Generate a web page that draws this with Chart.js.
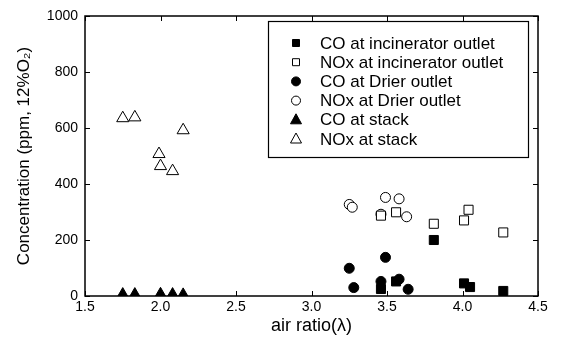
<!DOCTYPE html>
<html>
<head>
  <title>Concentration vs air ratio</title>
  <script src="https://cdn.jsdelivr.net/npm/chart.js"></script>
  <style>
    body { margin: 0; background: #fff; }
  </style>
</head>
<body>
  <canvas id="chartCanvas" width="562" height="347"></canvas>

  <script>
    // values: [air ratio, ppm]
    const coIncinerator = [[3.46, 25], [3.56, 52], [3.81, 200], [4.01, 45], [4.05, 32], [4.27, 18]];
    const noxIncinerator = [[3.46, 287], [3.56, 299], [3.81, 258], [4.01, 270], [4.04, 308], [4.27, 227]];
    const coDrier = [[3.25, 99], [3.28, 30], [3.46, 52], [3.49, 138], [3.58, 60], [3.64, 24]];
    const noxDrier = [[3.25, 327], [3.27, 317], [3.46, 292], [3.49, 352], [3.58, 347], [3.63, 283]];
    const coStack = [[1.75, 5], [1.83, 5], [2.0, 6], [2.08, 5], [2.15, 4]];
    const noxStack = [[1.75, 635], [1.83, 638], [1.99, 507], [2.0, 464], [2.08, 446], [2.15, 592]];

    const labels = [
      "CO at incinerator outlet",
      "NOx at incinerator outlet",
      "CO at Drier outlet",
      "NOx at Drier outlet",
      "CO at stack",
      "NOx at stack"
    ];
    const xTicks = [1.5, 2.0, 2.5, 3.0, 3.5, 4.0, 4.5];
    const yTicks = [0, 200, 400, 600, 800, 1000];

    const FONT = "'Liberation Sans', Arial, sans-serif";
    const toPts = arr => arr.map(p => ({ x: p[0], y: p[1] }));

    function ds(label, data, style, filled, radius) {
      return {
        label: label,
        data: toPts(data),
        pointStyle: style,
        pointRadius: radius,
        pointHoverRadius: radius,
        pointBackgroundColor: filled ? "#000" : "#fff",
        pointBorderColor: "#000",
        pointBorderWidth: 1,
        showLine: false
      };
    }

    // frame, inward ticks and boxed legend
    const framePlugin = {
      id: "frame",
      afterDraw(chart) {
        const ctx = chart.ctx;
        const a = chart.chartArea;
        const xs = chart.scales.x, ys = chart.scales.y;
        ctx.save();
        ctx.strokeStyle = "#000";
        ctx.lineWidth = 1.5;
        ctx.strokeRect(a.left, a.top, a.right - a.left, a.bottom - a.top);
        ctx.lineWidth = 1;
        ctx.beginPath();
        xTicks.forEach(v => {
          const px = Math.round(xs.getPixelForValue(v)) + 0.5;
          ctx.moveTo(px, a.bottom); ctx.lineTo(px, a.bottom - 5);
          ctx.moveTo(px, a.top); ctx.lineTo(px, a.top + 5);
        });
        yTicks.forEach(v => {
          const py = Math.round(ys.getPixelForValue(v)) + 0.5;
          ctx.moveTo(a.left, py); ctx.lineTo(a.left + 5, py);
          ctx.moveTo(a.right, py); ctx.lineTo(a.right - 5, py);
        });
        ctx.stroke();

        // legend box
        const lx = 268, ly = 21, lw = 260, lh = 136;
        ctx.fillStyle = "#fff";
        ctx.fillRect(lx, ly, lw, lh);
        ctx.lineWidth = 1.2;
        ctx.strokeRect(lx + 0.5, ly + 0.5, lw, lh);
        ctx.font = "17px " + FONT;
        ctx.textBaseline = "middle";
        chart.data.datasets.forEach((d, i) => {
          const cy = 43 + i * 19.2;
          const cx = 296;
          ctx.fillStyle = d.pointBackgroundColor;
          ctx.strokeStyle = "#000";
          ctx.lineWidth = 1;
          ctx.beginPath();
          if (d.pointStyle === "rect") {
            ctx.rect(cx - 3.5, cy - 3.5, 7, 7);
          } else if (d.pointStyle === "circle") {
            ctx.arc(cx, cy, 4.5, 0, Math.PI * 2);
          } else {
            ctx.moveTo(cx, cy - 6);
            ctx.lineTo(cx + 5.5, cy + 4);
            ctx.lineTo(cx - 5.5, cy + 4);
            ctx.closePath();
          }
          ctx.fill();
          ctx.stroke();
          ctx.fillStyle = "#000";
          ctx.fillText(d.label, 320, cy + 1);
        });
        ctx.restore();
      }
    };

    const ctx = document.getElementById("chartCanvas").getContext("2d");
    new Chart(ctx, {
      type: "scatter",
      data: {
        datasets: [
          ds(labels[0], coIncinerator, "rect", true, 6.4),
          ds(labels[1], noxIncinerator, "rect", false, 6.4),
          ds(labels[2], coDrier, "circle", true, 5),
          ds(labels[3], noxDrier, "circle", false, 5),
          ds(labels[4], coStack, "triangle", true, 7),
          ds(labels[5], noxStack, "triangle", false, 7)
        ]
      },
      options: {
        responsive: false,
        animation: false,
        layout: { padding: { top: 16, right: 24, left: 0, bottom: 0 } },
        plugins: {
          legend: { display: false },
          tooltip: { enabled: false }
        },
        scales: {
          x: {
            type: "linear",
            min: 1.5,
            max: 4.5,
            afterBuildTicks: s => { s.ticks = xTicks.map(v => ({ value: v })); },
            afterFit: s => { s.height = 51; },
            grid: { display: false, drawTicks: false },
            border: { display: false },
            ticks: {
              color: "#000",
              padding: 3,
              font: { family: FONT, size: 14 },
              callback: v => v.toFixed(1)
            },
            title: {
              display: true,
              text: "air ratio(\u03bb)",
              color: "#000",
              font: { family: FONT, size: 18 },
              padding: { top: 0, bottom: 10 }
            }
          },
          y: {
            min: 0,
            max: 1000,
            afterBuildTicks: s => { s.ticks = yTicks.map(v => ({ value: v })); },
            afterFit: s => { s.width = 85; },
            grid: { display: false, drawTicks: false },
            border: { display: false },
            ticks: {
              color: "#000",
              padding: 7,
              font: { family: FONT, size: 14 },
              callback: v => String(v)
            },
            title: {
              display: true,
              text: "Concentration (ppm, 12%O\u2082)",
              color: "#000",
              font: { family: FONT, size: 17 },
              padding: { top: 14, bottom: 0 }
            }
          }
        }
      },
      plugins: [framePlugin]
    });
  </script>
</body>
</html>
